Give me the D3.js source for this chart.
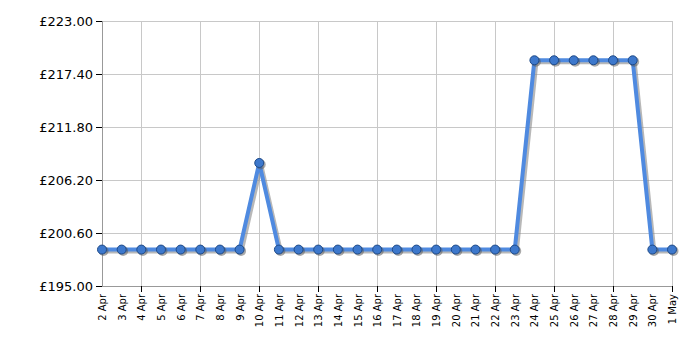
<!DOCTYPE html>
<html><head><meta charset="utf-8">
<script src="https://cdn.jsdelivr.net/npm/d3@7"></script>
<style>body{margin:0;background:#fff}svg{display:block}</style>
</head><body>
<script>
const dates = ["2 Apr","3 Apr","4 Apr","5 Apr","6 Apr","7 Apr","8 Apr","9 Apr","10 Apr","11 Apr","12 Apr","13 Apr","14 Apr","15 Apr","16 Apr","17 Apr","18 Apr","19 Apr","20 Apr","21 Apr","22 Apr","23 Apr","24 Apr","25 Apr","26 Apr","27 Apr","28 Apr","29 Apr","30 Apr","1 May"];
const prices = [198.85,198.85,198.85,198.85,198.85,198.85,198.85,198.85,208.00,198.85,198.85,198.85,198.85,198.85,198.85,198.85,198.85,198.85,198.85,198.85,198.85,198.85,218.85,218.85,218.85,218.85,218.85,218.85,198.85,198.85];
const yTicks = [195.00,200.60,206.20,211.80,217.40,223.00];
const majorDates = ["4 Apr","7 Apr","10 Apr","13 Apr","16 Apr","19 Apr","22 Apr","25 Apr","28 Apr","1 May"];

const W=700,H=350, mL=102, mR=672, mT=21, mB=286;
const svg=d3.select("body").append("svg").attr("width",W).attr("height",H);
const x=d3.scalePoint().domain(dates).range([mL,mR]);
const y=d3.scaleLinear().domain([195,223]).range([mB,mT]);

svg.append("g").selectAll("line").data(yTicks).join("line")
  .attr("x1",mL).attr("x2",mR).attr("y1",d=>y(d)).attr("y2",d=>y(d))
  .attr("stroke",d=>d===195?"#999":"#c8c8c8").attr("stroke-width",1).attr("shape-rendering","crispEdges");
svg.append("g").selectAll("line").data(majorDates).join("line")
  .attr("x1",d=>x(d)).attr("x2",d=>x(d)).attr("y1",mT).attr("y2",mB)
  .attr("stroke","#c8c8c8").attr("shape-rendering","crispEdges");
svg.append("line").attr("x1",mL).attr("x2",mL).attr("y1",mT).attr("y2",mB)
  .attr("stroke","#999").attr("shape-rendering","crispEdges");
svg.append("line").attr("x1",mL).attr("x2",mR).attr("y1",mB).attr("y2",mB)
  .attr("stroke","#999").attr("shape-rendering","crispEdges");

const yAxis=d3.axisLeft(y).tickValues(yTicks).tickSize(6).tickPadding(3).tickFormat(d=>"£"+d3.format(".2f")(d));
const gy=svg.append("g").attr("transform",`translate(${mL},0)`).call(yAxis);
gy.select(".domain").remove();
gy.selectAll(".tick line").attr("stroke","#000").attr("shape-rendering","crispEdges");
gy.selectAll("text").attr("font-family","DejaVu Sans, Verdana, sans-serif").attr("font-size","13px").attr("fill","#000");

const xAxis=d3.axisBottom(x).tickSize(0).tickPadding(0);
const gx=svg.append("g").attr("transform",`translate(0,${mB})`).call(xAxis);
gx.select(".domain").remove();
gx.selectAll(".tick line").remove();
gx.selectAll("text").attr("font-family","DejaVu Sans, Verdana, sans-serif").attr("font-size","10px").attr("fill","#000")
  .attr("text-anchor","end").attr("dy","0.35em").attr("transform","translate(0,8) rotate(-90)").attr("x",0).attr("y",0);
svg.append("g").selectAll("line").data(majorDates).join("line")
  .attr("x1",d=>x(d)).attr("x2",d=>x(d)).attr("y1",mB).attr("y2",mB+6)
  .attr("stroke","#000").attr("shape-rendering","crispEdges");

const data=dates.map((d,i)=>({d,v:prices[i]}));
const line=d3.line().x(p=>x(p.d)).y(p=>y(p.v));
svg.append("path").datum(data).attr("d",line).attr("fill","none").attr("stroke","#888").attr("stroke-opacity",0.6)
  .attr("stroke-width",4).attr("transform","translate(2,2)").attr("stroke-linejoin","round");
svg.append("path").datum(data).attr("d",line).attr("fill","none").attr("stroke","#4f8ae0")
  .attr("stroke-width",4).attr("stroke-linejoin","round");
svg.append("g").selectAll("circle").data(data).join("circle")
  .attr("cx",p=>x(p.d)+1.5).attr("cy",p=>y(p.v)+1.5).attr("r",5).attr("fill","#555").attr("opacity",0.5);
svg.append("g").selectAll("circle").data(data).join("circle")
  .attr("cx",p=>x(p.d)).attr("cy",p=>y(p.v)).attr("r",4.5).attr("fill","#3d78cc").attr("stroke","#1e4a88").attr("stroke-width",1);
</script>
</body></html>
